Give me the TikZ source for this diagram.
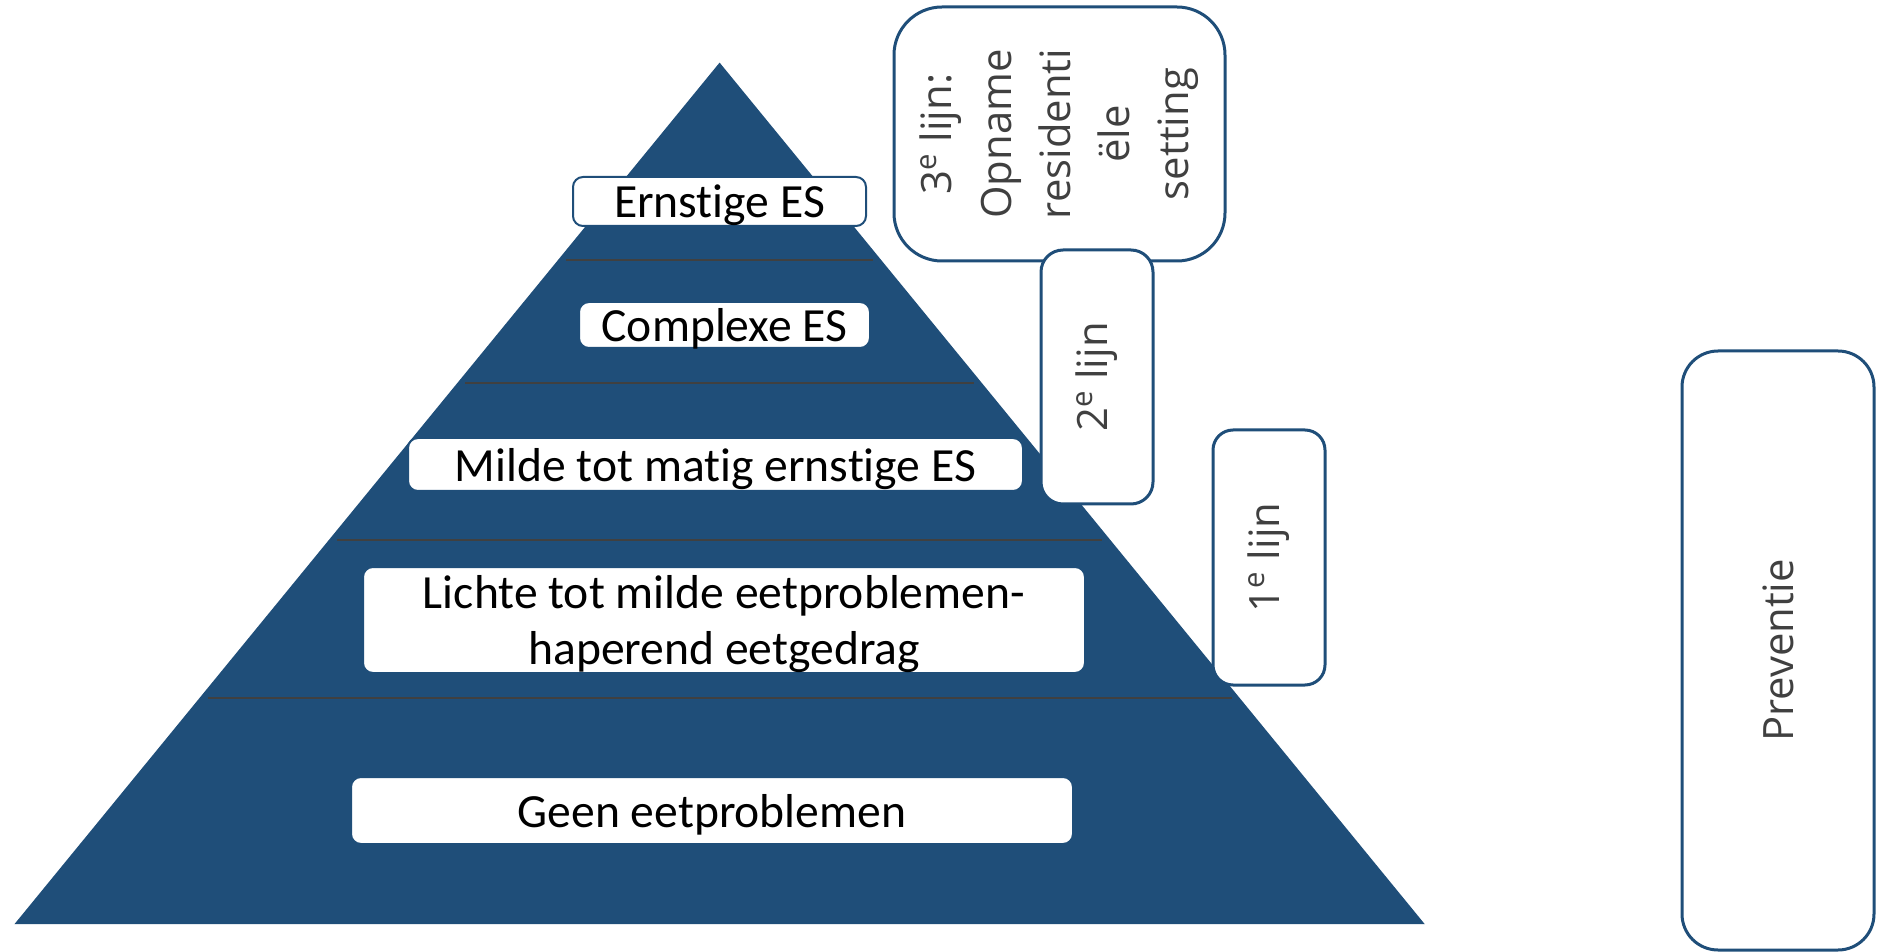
\documentclass[tikz,border=0pt]{standalone}
\usepackage{fontspec}
\setmainfont{Carlito}[Ligatures=NoCommon]
\newfontfamily\lijnfont{Open Sans}
\definecolor{pyrblue}{HTML}{1F4E79}
\definecolor{lijngray}{HTML}{404040}
\tikzset{
  laag/.style={draw=pyrblue, line width=1pt, fill=white, rounded corners=5pt,
    inner sep=0pt, text depth=0pt, align=center, font=\fontsize{23.8}{28}\selectfont},
  lijn/.style={draw=pyrblue, line width=1.5pt, fill=white, inner sep=0pt,
    align=center, rotate=90, text=lijngray,
    font=\lijnfont\fontsize{20.9}{29.6}\selectfont}
}

\begin{document}
\begin{tikzpicture}[x=0.5pt, y=-0.5pt]
  % Fix the page size
  \useasboundingbox (0,0) rectangle (1887,952);

  % Draw the pyramid and its layers
  \fill[pyrblue] (14.4,924.2) -- (719.6,62.6) -- (1424.8,924.2) -- cycle;
  \foreach \y in {260,383,540,698} {
    \pgfmathsetmacro\hw{(\y-62.6)*0.8185-8}
    \draw[lijngray, line width=1pt] (719.6-\hw,\y) -- (719.6+\hw,\y);
  }

  % Labels in the pyramid
  \node[laag, minimum width=146.5pt, minimum height=24.5pt] (ernstig) at (719.5,201.5) {Ernstige ES};
  \node[laag, minimum width=145.5pt, minimum height=23pt] (complex) at (724.5,325) {Complexe ES};
  \node[laag, minimum width=307.5pt, minimum height=26.5pt] (milde) at (715.5,464.5) {Milde tot matig ernstige ES};
  \node[laag, minimum width=361pt, minimum height=53pt] (lichte) at (724,620) {Lichte tot milde eetproblemen-\\haperend eetgedrag};
  \node[laag, minimum width=361pt, minimum height=33.5pt] (geen) at (712,810.5) {Geen eetproblemen};

  % Care lines beside the pyramid
  \node[lijn, rounded corners=24pt, minimum width=127pt, minimum height=165.5pt] (derde) at (1059.5,134)
    {3\textsuperscript{e} lijn:\\Opname\\residenti\\ële\\setting};
  \node[lijn, rounded corners=11pt, minimum width=127pt, minimum height=56pt] (tweede) at (1097,377) {2\textsuperscript{e} lijn};
  \node[lijn, rounded corners=10pt, minimum width=127.5pt, minimum height=56pt] (eerste) at (1269,557.5) {1\textsuperscript{e} lijn};
  \node[lijn, rounded corners=18pt, minimum width=299.5pt, minimum height=96pt] (preventie) at (1778,650.5) {Preventie};
\end{tikzpicture}
\end{document}
